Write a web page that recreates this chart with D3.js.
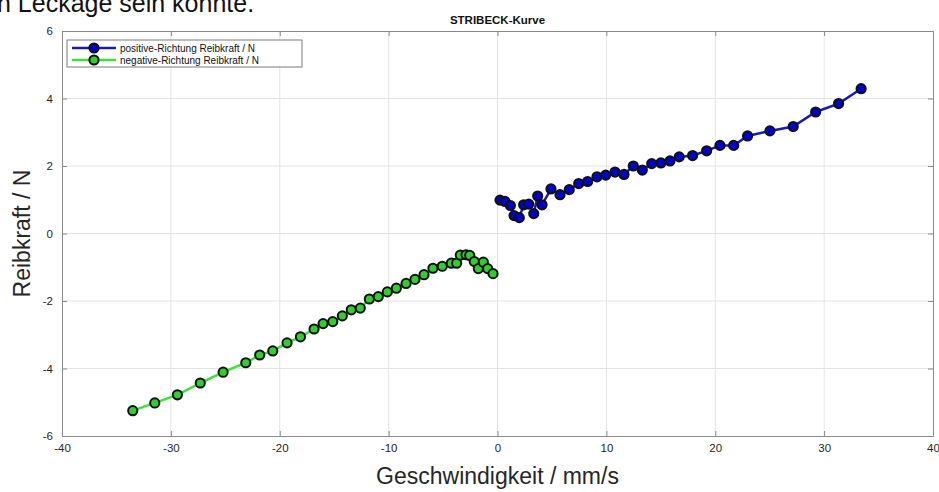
<!DOCTYPE html>
<html>
<head>
<meta charset="utf-8">
<script src="https://cdn.jsdelivr.net/npm/d3@7"></script>
<style>
  body { margin: 0; background: #fff; }
  svg { display: block; font-family: "Liberation Sans", Arial, sans-serif; }
</style>
</head>
<body>
<svg id="chart" width="939" height="492"></svg>
<script>
// positive direction (blue)
const posX = [0.23, 0.69, 1.18, 1.52, 2.0, 2.4, 2.87, 3.33, 3.69, 4.09, 4.91, 5.74, 6.59, 7.46, 8.28,
  9.14, 9.94, 10.79, 11.62, 12.47, 13.3, 14.16, 15.01, 15.84, 16.69, 17.92, 19.21, 20.43, 21.69,
  22.97, 25.02, 27.16, 29.22, 31.33, 33.4];
const posY = [0.99, 0.95, 0.83, 0.53, 0.47, 0.85, 0.87, 0.59, 1.11, 0.85, 1.32, 1.15, 1.30, 1.48, 1.54,
  1.68, 1.73, 1.82, 1.75, 2.0, 1.88, 2.07, 2.09, 2.15, 2.27, 2.31, 2.45, 2.61, 2.61,
  2.89, 3.04, 3.17, 3.60, 3.85, 4.29];

// negative direction (green)
const negX = [-33.5, -31.48, -29.4, -27.3, -25.2, -23.12, -21.84, -20.64, -19.33, -18.1, -16.85, -16.02,
  -15.13, -14.25, -13.43, -12.6, -11.77, -10.95, -10.12, -9.29, -8.4, -7.58, -6.75, -5.93, -5.07,
  -4.24, -3.75, -3.42, -2.89, -2.55, -2.13, -1.76, -1.3, -0.9, -0.41];
const negY = [-5.25, -5.02, -4.78, -4.43, -4.11, -3.83, -3.60, -3.48, -3.24, -3.06, -2.83, -2.67,
  -2.61, -2.44, -2.26, -2.21, -1.94, -1.87, -1.73, -1.62, -1.48, -1.36, -1.22, -1.03, -0.97,
  -0.88, -0.88, -0.64, -0.63, -0.65, -0.83, -1.04, -0.85, -1.04, -1.19];

const xTicks = [-40, -30, -20, -10, 0, 10, 20, 30, 40];
const yTicks = [-6, -4, -2, 0, 2, 4, 6];

const seriesNames = ["positive-Richtung Reibkraft / N", "negative-Richtung Reibkraft / N"];

const svg = d3.select("#chart");
const margin = { top: 31, right: 6, bottom: 56, left: 62 };
const width = 939, height = 492;

const x = d3.scaleLinear().domain([-40, 40]).range([margin.left, width - margin.right]);
const y = d3.scaleLinear().domain([-6, 6]).range([height - margin.bottom, margin.top]);

// page text cut off above the figure
svg.append("text")
  .attr("x", -3).attr("y", 12)
  .attr("font-size", 25)
  .attr("fill", "#111")
  .text("n Leckage sein konnte.");

// grid
svg.append("g").selectAll("line").data(xTicks.slice(1, -1)).join("line")
  .attr("x1", d => x(d)).attr("x2", d => x(d))
  .attr("y1", y(6)).attr("y2", y(-6))
  .attr("stroke", "#e4e4e4");
svg.append("g").selectAll("line").data(yTicks.slice(1, -1)).join("line")
  .attr("y1", d => y(d)).attr("y2", d => y(d))
  .attr("x1", x(-40)).attr("x2", x(40))
  .attr("stroke", "#e4e4e4");

// axes with inside ticks, plain hyphen minus like the original
const tickLen = 5;
const fmt = d => String(d);
const styleAxis = g => {
  g.select(".domain").attr("stroke", "#8a8a8a");
  g.selectAll(".tick line").attr("stroke", "#8a8a8a");
  g.selectAll(".tick text").attr("fill", "#262626").attr("font-size", 11.5)
    .attr("font-family", "'Liberation Sans Narrow', 'Liberation Sans', Arial, sans-serif");
};

svg.append("g")
  .attr("transform", `translate(0,${y(-6)})`)
  .call(d3.axisBottom(x).tickValues(xTicks).tickFormat(fmt).tickSizeInner(-tickLen).tickSizeOuter(0).tickPadding(8))
  .call(styleAxis);
svg.append("g")
  .attr("transform", `translate(0,${y(6)})`)
  .call(d3.axisTop(x).tickValues(xTicks).tickSizeInner(-tickLen).tickSizeOuter(0).tickFormat(""))
  .call(styleAxis);
svg.append("g")
  .attr("transform", `translate(${x(-40)},0)`)
  .call(d3.axisLeft(y).tickValues(yTicks).tickFormat(fmt).tickSizeInner(-tickLen).tickSizeOuter(0).tickPadding(9))
  .call(styleAxis);
svg.append("g")
  .attr("transform", `translate(${x(40)},0)`)
  .call(d3.axisRight(y).tickValues(yTicks).tickSizeInner(-tickLen).tickSizeOuter(0).tickFormat(""))
  .call(styleAxis);

// series
const series = [
  { xs: posX, ys: posY, line: "#1c1cab", fill: "#0000d0" },
  { xs: negX, ys: negY, line: "#3de03d", fill: "#33cc33" }
];

const line = d3.line().x(d => x(d[0])).y(d => y(d[1]));

series.forEach(s => {
  const pts = s.xs.map((v, i) => [v, s.ys[i]]);
  svg.append("path")
    .datum(pts)
    .attr("fill", "none")
    .attr("stroke", s.line)
    .attr("stroke-width", 2.5)
    .attr("d", line);
  svg.append("g").selectAll("circle").data(pts).join("circle")
    .attr("cx", d => x(d[0]))
    .attr("cy", d => y(d[1]))
    .attr("r", 4.6)
    .attr("fill", s.fill)
    .attr("stroke", "#111")
    .attr("stroke-width", 2);
});

// title and axis labels
svg.append("text")
  .attr("x", x(0)).attr("y", 24)
  .attr("text-anchor", "middle")
  .attr("font-size", 11.5).attr("font-weight", "bold")
  .attr("fill", "#111")
  .text("STRIBECK-Kurve");

svg.append("text")
  .attr("x", x(0)).attr("y", 484)
  .attr("text-anchor", "middle")
  .attr("font-size", 23)
  .attr("fill", "#262626")
  .text("Geschwindigkeit / mm/s");

svg.append("text")
  .attr("transform", `translate(30,${y(0)}) rotate(-90)`)
  .attr("text-anchor", "middle")
  .attr("font-size", 23)
  .attr("fill", "#262626")
  .text("Reibkraft / N");

// legend
const legend = svg.append("g").attr("transform", "translate(67,40)");
legend.append("rect")
  .attr("width", 235).attr("height", 27)
  .attr("fill", "#fff").attr("stroke", "#7a7a7a").attr("stroke-width", 1);

series.forEach((s, i) => {
  const ly = 8 + i * 12;
  legend.append("line")
    .attr("x1", 5).attr("x2", 49).attr("y1", ly).attr("y2", ly)
    .attr("stroke", s.line).attr("stroke-width", 2.5);
  legend.append("circle")
    .attr("cx", 27).attr("cy", ly).attr("r", 4.6)
    .attr("fill", s.fill).attr("stroke", "#111").attr("stroke-width", 2);
  legend.append("text")
    .attr("x", 53).attr("y", ly + 3.5)
    .attr("font-size", 10)
    .attr("fill", "#111")
    .text(seriesNames[i]);
});
</script>
</body>
</html>
